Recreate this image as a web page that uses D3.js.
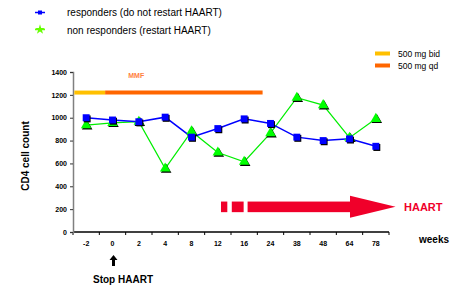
<!DOCTYPE html>
<html>
<head>
<meta charset="utf-8">
<script src="https://cdn.jsdelivr.net/npm/d3@7"></script>
<style>
  body { margin: 0; background: #fff; }
  svg { font-family: "Liberation Sans", Arial, sans-serif; }
</style>
</head>
<body>
<div id="chart"></div>
<script>
// CD4 cell count after stopping HAART

const weeks = ["-2", "0", "2", "4", "8", "12", "16", "24", "38", "48", "64", "78"];
const responders = [1000, 980, 965, 1005, 830, 905, 990, 950, 830, 800, 815, 750];
const nonResponders = [935, 955, 965, 555, 880, 695, 615, 865, 1175, 1110, 825, 990];
const yTicks = [0, 200, 400, 600, 800, 1000, 1200, 1400];

// MMF dosing periods, in week-index units along the x axis
const mmfBid = [-0.45, 0.72];
const mmfQd = [0.72, 6.7];
const mmfLevel = 1220;

// HAART restart arrow (dashed start then arrow), week-index units
const haartDashes = [[5.12, 5.36], [5.53, 5.98], [6.13, 10.02]];
const haartTip = 11.75;
const haartLevel = 220;

const width = 466,
    height = 288,
    margin = ({top: 72, right: 77, bottom: 56, left: 73});

const svg = d3.select("#chart")
    .append("svg")
    .attr("width", width)
    .attr("height", height);

// X - axis = weeks
const x = d3.scaleBand()
    .domain(weeks)
    .range([margin.left, width - margin.right]);

// linear scale over week index for the treatment bars
const xi = d3.scaleLinear()
    .domain([0, weeks.length - 1])
    .range([x(weeks[0]) + x.bandwidth() / 2, x(weeks[weeks.length - 1]) + x.bandwidth() / 2]);

// Y - axis = CD4 count
const y = d3.scaleLinear()
    .domain([0, 1400])
    .range([height - margin.bottom, margin.top]);

// x axis with ticks on band edges
const xAxis = svg.append("g")
    .attr("transform", `translate(0,${y(0)})`);
xAxis.append("line")
    .attr("x1", margin.left).attr("x2", width - margin.right)
    .attr("stroke", "#000").attr("stroke-width", 1.5);
xAxis.selectAll(".tk")
    .data(d3.range(weeks.length + 1))
    .join("line")
    .attr("x1", i => margin.left + i * x.bandwidth())
    .attr("x2", i => margin.left + i * x.bandwidth())
    .attr("y1", 0).attr("y2", 3)
    .attr("stroke", "#000");
xAxis.selectAll("text")
    .data(weeks)
    .join("text")
    .attr("x", d => x(d) + x.bandwidth() / 2)
    .attr("y", 14)
    .attr("text-anchor", "middle")
    .attr("font-size", 7)
    .attr("font-weight", "bold")
    .text(d => d);

// y axis
const yAxis = svg.append("g")
    .attr("transform", `translate(${margin.left},0)`)
    .call(d3.axisLeft(y).tickValues(yTicks).tickFormat(d3.format("d")).tickSize(3).tickPadding(3));
yAxis.select(".domain").attr("stroke", "#808080").attr("stroke-width", 1.5);
yAxis.selectAll(".tick line").attr("stroke", "#333");
yAxis.selectAll(".tick text")
    .attr("font-size", 7)
    .attr("font-weight", "bold")
    .attr("font-family", "Liberation Sans, Arial, sans-serif");

svg.append("text")
    .attr("transform", `translate(29,${(y(0) + y(1400)) / 2 + 4}) rotate(-90)`)
    .attr("text-anchor", "middle")
    .attr("font-size", 10)
    .attr("font-weight", "bold")
    .text("CD4 cell count");

svg.append("text")
    .attr("x", 419).attr("y", y(0) + 11)
    .attr("font-size", 10)
    .attr("font-weight", "bold")
    .text("weeks");

// MMF bars
svg.append("line")
    .attr("x1", xi(mmfBid[0])).attr("x2", xi(mmfBid[1]))
    .attr("y1", y(mmfLevel)).attr("y2", y(mmfLevel))
    .attr("stroke", "#ffc000").attr("stroke-width", 4);
svg.append("line")
    .attr("x1", xi(mmfQd[0])).attr("x2", xi(mmfQd[1]))
    .attr("y1", y(mmfLevel)).attr("y2", y(mmfLevel))
    .attr("stroke", "#ff6600").attr("stroke-width", 4);
svg.append("text")
    .attr("x", xi(1.9)).attr("y", y(1400) + 6)
    .attr("text-anchor", "middle")
    .attr("font-size", 7)
    .attr("font-weight", "bold")
    .attr("fill", "#ff7f3f")
    .text("MMF");

// HAART arrow
const hy = y(haartLevel);
svg.selectAll(".haart")
    .data(haartDashes)
    .join("rect")
    .attr("x", d => xi(d[0]))
    .attr("width", d => xi(d[1]) - xi(d[0]))
    .attr("y", hy - 5.3)
    .attr("height", 10.6)
    .attr("fill", "#f0002a");
svg.append("path")
    .attr("d", `M${xi(haartDashes[2][1])},${hy - 11} L${xi(haartTip)},${hy} L${xi(haartDashes[2][1])},${hy + 11} Z`)
    .attr("fill", "#f0002a");
svg.append("text")
    .attr("x", 404).attr("y", hy + 4)
    .attr("font-size", 11)
    .attr("font-weight", "bold")
    .attr("fill", "#f0002a")
    .text("HAART");

// Lines
const line = d3.line()
    .x((d, i) => x(weeks[i]) + x.bandwidth() / 2)
    .y(d => y(d));

svg.append("path")
    .datum(nonResponders)
    .attr("fill", "none")
    .attr("stroke", "#00ee00")
    .attr("stroke-width", 1.2)
    .attr("d", line);
svg.append("path")
    .datum(responders)
    .attr("fill", "none")
    .attr("stroke", "#0000ff")
    .attr("stroke-width", 1.5)
    .attr("d", line);

// markers with shadow
const tri = d3.symbol().type(d3.symbolTriangle).size(48);
const sq = d3.symbol().type(d3.symbolSquare).size(48);

function markers(data, sym, color) {
    const g = svg.append("g");
    g.selectAll(".sh")
        .data(data)
        .join("path")
        .attr("d", sym)
        .attr("transform", (d, i) => `translate(${x(weeks[i]) + x.bandwidth() / 2 + 1},${y(d) + 1.2})`)
        .attr("fill", "#000");
    g.selectAll(".mk")
        .data(data)
        .join("path")
        .attr("d", sym)
        .attr("transform", (d, i) => `translate(${x(weeks[i]) + x.bandwidth() / 2},${y(d)})`)
        .attr("fill", color);
}
markers(nonResponders, tri, "#00ff00");
markers(responders, sq, "#0000ff");

// top-left legend
svg.append("line")
    .attr("x1", 35).attr("x2", 45).attr("y1", 12.5).attr("y2", 12.5)
    .attr("stroke", "#0000ff").attr("stroke-width", 1.5);
svg.append("path")
    .attr("d", d3.symbol().type(d3.symbolSquare).size(16))
    .attr("transform", "translate(40,12.5)")
    .attr("fill", "#0000ff");
svg.append("path")
    .attr("d", d3.symbol().type(d3.symbolStar).size(30))
    .attr("transform", "translate(40,29.5)")
    .attr("fill", "#66ff00");
svg.append("line")
    .attr("x1", 35).attr("x2", 45).attr("y1", 29.5).attr("y2", 29.5)
    .attr("stroke", "#66ff00").attr("stroke-width", 1.5);
svg.append("text")
    .attr("x", 67).attr("y", 16)
    .attr("font-size", 10)
    .text("responders (do not restart HAART)");
svg.append("text")
    .attr("x", 67).attr("y", 33.5)
    .attr("font-size", 10)
    .text("non responders (restart HAART)");

// right legend
const rLegend = [["500 mg bid", "#ffc000", 53.5], ["500 mg qd", "#ff6600", 65.5]];
rLegend.forEach(([label, c, ly]) => {
    svg.append("line")
        .attr("x1", 375).attr("x2", 390).attr("y1", ly).attr("y2", ly)
        .attr("stroke", c).attr("stroke-width", 4);
    svg.append("text")
        .attr("x", 398).attr("y", ly + 3)
        .attr("font-size", 8.5)
        .text(label);
});

// Stop HAART marker
svg.append("path")
    .attr("d", "M-4,5 L0,0 L4,5 L1.5,5 L1.5,11 L-1.5,11 L-1.5,5 Z")
    .attr("transform", `translate(${x("0") + x.bandwidth() / 2 + 1},255)`)
    .attr("fill", "#000");
svg.append("text")
    .attr("x", 123).attr("y", 283)
    .attr("text-anchor", "middle")
    .attr("font-size", 10)
    .attr("font-weight", "bold")
    .text("Stop HAART");
</script>
</body>
</html>
